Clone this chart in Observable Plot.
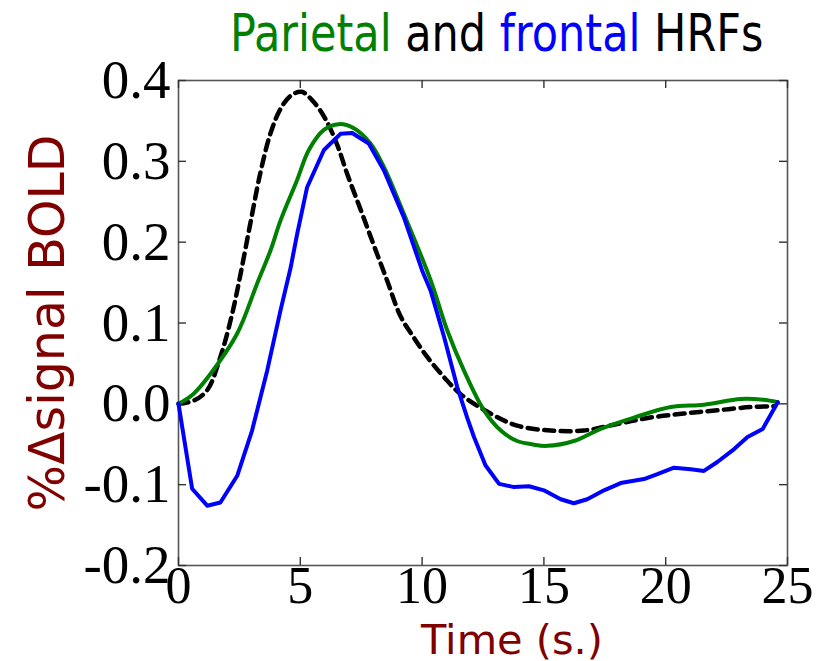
<!DOCTYPE html>
<html>
<head>
<meta charset="utf-8">
<script src="https://cdn.jsdelivr.net/npm/d3@7"></script>
<script src="https://cdn.jsdelivr.net/npm/@observablehq/plot@0.6"></script>
<style>
  body { margin: 0; background: white; }
  #wrap { position: relative; width: 817px; height: 661px; }
  #title { position: absolute; left: 230px; top: 8px; font-family: "DejaVu Sans"; font-size: 43px; white-space: nowrap; line-height: 1; transform: scaleY(1.2); transform-origin: 0 0; z-index: 2; }
</style>
</head>
<body>
<div id="wrap">
  <div id="title"><span style="color:#008000">Parietal</span> <span style="color:#000">and</span> <span style="color:#0000ff">frontal</span> <span style="color:#000">HRFs</span></div>
</div>
<script>
// Parietal HRF (green)
const tParietal = [0,0.6,1.31,2.41,3.23,3.78,4.19,4.87,5.35,5.97,6.58,7.2,7.88,8.43,9.25,10.35,11.03,11.72,12.54,13.23,13.9,14.5,15.13,16.23,17.33,18.7,20.21,21.57,23.08,24.0,24.6];
const vParietal = [0,0.012,0.037,0.087,0.149,0.19,0.227,0.277,0.314,0.339,0.346,0.341,0.322,0.293,0.235,0.153,0.091,0.041,-0.008,-0.033,-0.046,-0.05,-0.052,-0.046,-0.031,-0.017,-0.004,-0.001,0.006,0.005,0.002];
// Frontal HRF (blue)
const tFrontal = [0,0.56,1.18,1.72,2.41,3.02,3.64,4.19,4.6,4.87,5.28,5.97,6.65,7.13,7.81,8.43,9.25,10.0,10.35,10.9,11.44,11.85,12.13,12.6,13.16,13.77,14.39,15.0,15.69,16.23,16.78,17.47,18.15,19.11,19.66,20.34,21.03,21.57,22.12,22.81,23.36,23.98,24.6];
const vFrontal = [0,-0.105,-0.126,-0.122,-0.089,-0.033,0.041,0.116,0.168,0.21,0.268,0.314,0.334,0.335,0.322,0.289,0.231,0.165,0.14,0.083,0.021,-0.017,-0.041,-0.076,-0.099,-0.103,-0.102,-0.107,-0.118,-0.123,-0.118,-0.107,-0.098,-0.093,-0.087,-0.079,-0.081,-0.083,-0.072,-0.056,-0.041,-0.031,0.002];
// Canonical HRF (black dashed)
const tCanonical = [0,0.63,1.18,1.72,2.2,2.55,2.96,3.37,3.78,4.19,4.6,5.05,5.56,6.04,6.52,6.93,7.48,8.02,8.57,9.12,9.66,10.21,10.9,11.58,12.81,13.9,15.27,16.64,18.0,19.37,20.74,22.12,23.49,24.45];
const vCanonical = [0,0.004,0.017,0.058,0.111,0.161,0.225,0.287,0.335,0.365,0.381,0.386,0.373,0.352,0.32,0.284,0.24,0.196,0.152,0.108,0.082,0.058,0.033,0.012,-0.012,-0.027,-0.033,-0.033,-0.025,-0.017,-0.012,-0.008,-0.004,-0.003];

const xTicks = [0,5,10,15,20,25];
const yTicks = [-0.2,-0.1,0,0.1,0.2,0.3,0.4];
const xLabel = "Time (s.)";
const yLabel = "%\u0394signal BOLD";

const parietal = tParietal.map((t,i) => ({t, v: vParietal[i]}));
const frontal = tFrontal.map((t,i) => ({t, v: vFrontal[i]}));
const canonical = tCanonical.map((t,i) => ({t, v: vCanonical[i]}));

const W = 817, H = 661, mT = 80, mB = 96, mL = 178, mR = 30;
const innerH = H - mT - mB, innerW = W - mL - mR;
const tickLen = 8;
const serif = "Liberation Serif";

const chart = Plot.plot({
  width: W, height: H,
  marginTop: mT, marginBottom: mB, marginLeft: mL, marginRight: mR,
  x: {domain: [0, 25]},
  y: {domain: [-0.2, 0.4]},
  style: {background: "white"},
  marks: [
    Plot.frame({stroke: "#555", strokeWidth: 1.6}),
    Plot.tickX(xTicks, {x: d => d, insetTop: innerH - tickLen, stroke: "#333", strokeWidth: 1.4}),
    Plot.tickX(xTicks, {x: d => d, insetBottom: innerH - tickLen, stroke: "#333", strokeWidth: 1.4}),
    Plot.tickY(yTicks, {y: d => d, insetRight: innerW - tickLen, stroke: "#333", strokeWidth: 1.4}),
    Plot.tickY(yTicks, {y: d => d, insetLeft: innerW - tickLen, stroke: "#333", strokeWidth: 1.4}),
    Plot.axisX({ticks: xTicks, tickSize: 0, tickPadding: 1, fontSize: 52, fontFamily: serif, label: null, tickFormat: d => String(d), fill: "black"}),
    Plot.axisY({ticks: yTicks, tickSize: 0, tickPadding: 8, fontSize: 55, fontFamily: serif, label: null, tickFormat: d => d.toFixed(1), fill: "black"}),
    Plot.line(canonical, {x: "t", y: "v", stroke: "black", strokeWidth: 4.5, strokeDasharray: "10,6.5", curve: "catmull-rom"}),
    Plot.line(parietal, {x: "t", y: "v", stroke: "#008000", strokeWidth: 4, curve: "catmull-rom"}),
    Plot.line(frontal, {x: "t", y: "v", stroke: "#0000ff", strokeWidth: 4}),
    Plot.text([xLabel], {frameAnchor: "bottom", dx: 29, dy: 75, text: d => d, fontSize: 41.5, fontFamily: "DejaVu Sans", fill: "#800000", lineAnchor: "middle"}),
    Plot.text([yLabel], {frameAnchor: "left", dx: -130, rotate: -90, textAnchor: "middle", text: d => d, fontSize: 49, fontFamily: "DejaVu Sans", fill: "#800000", lineAnchor: "middle"})
  ]
});
document.getElementById("wrap").prepend(chart);
chart.style.position = "absolute";
chart.style.left = "0";
chart.style.top = "0";
</script>
</body>
</html>
